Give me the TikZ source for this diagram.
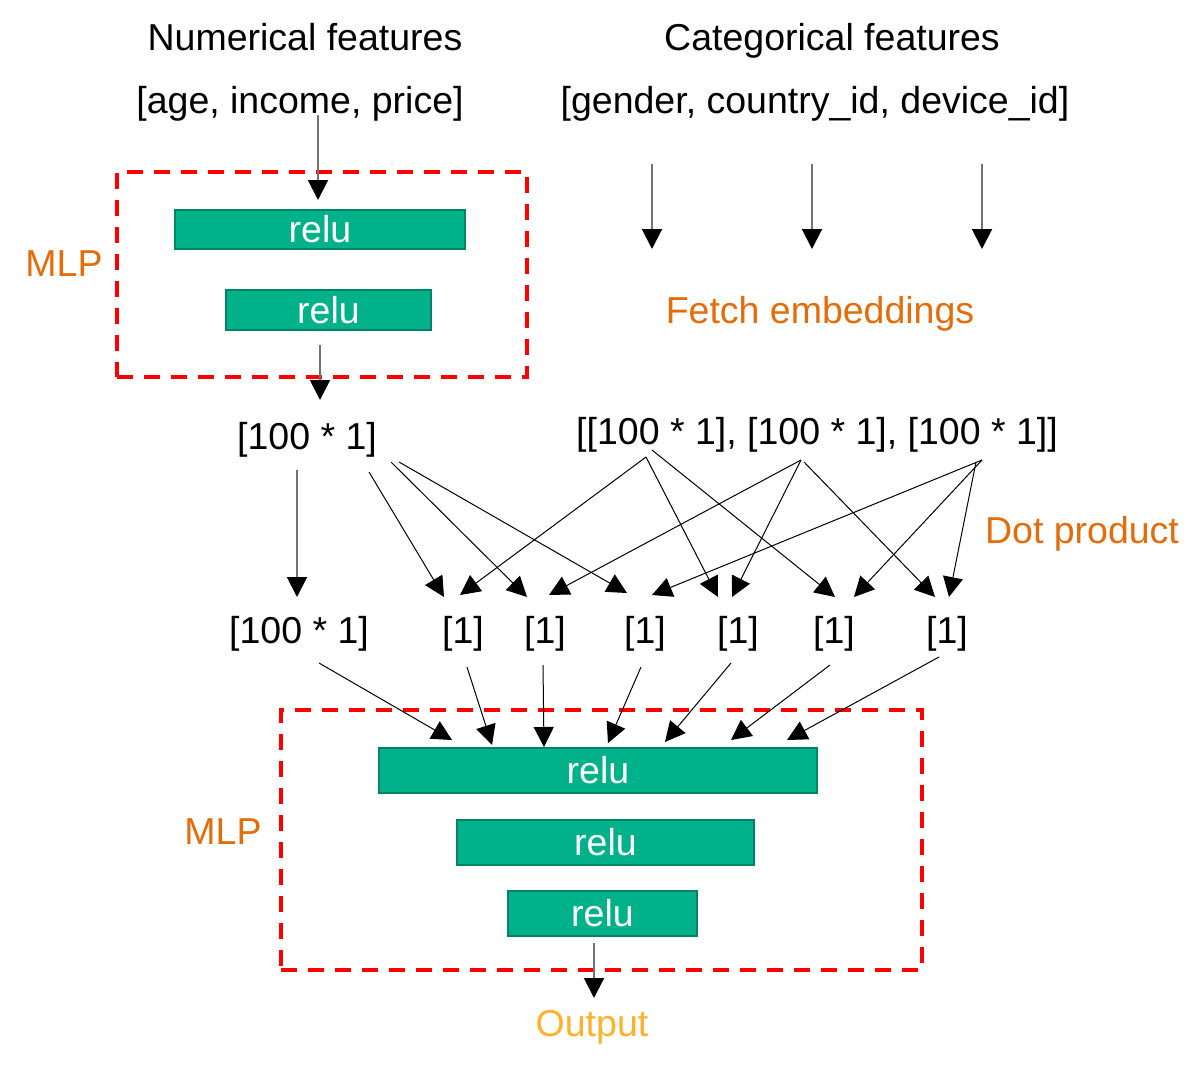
\documentclass[tikz,border=0pt]{standalone}
\usepackage{fontspec}
\setmainfont{Liberation Sans}
\usetikzlibrary{arrows.meta}
\definecolor{relugreen}{HTML}{00B189}
\definecolor{reluborder}{HTML}{008366}
\definecolor{lblorange}{HTML}{E46C0A}
\definecolor{outorange}{HTML}{FFB12B}
\definecolor{mlpred}{HTML}{FF0000}
\begin{document}
\begin{tikzpicture}[x=1pt,y=-1pt,
 txt/.style={font=\fontsize{37.5}{44}\selectfont, inner sep=0pt, anchor=base},
 lbl/.style={txt, text=lblorange},
 relubox/.style={draw=reluborder, line width=2pt, fill=relugreen, text=white,
   font=\fontsize{37.5}{44}\selectfont, inner sep=0pt},
 mlpbox/.style={draw=mlpred, line width=4pt, dash pattern=on 16pt off 11pt, inner sep=0pt},
 arr/.style={line width=1pt, draw=black, -{Triangle[length=20pt,width=20pt,color=black]}},
 varr/.style={arr, draw=black!55, line width=2pt}
]
\useasboundingbox (0,0) rectangle (1202,1066);

% titles
\node[txt] (numt) at (305,50) {Numerical features};
\node[txt] (catt) at (832,50) {Categorical features};
\node[txt] (numf) at (300,113) {[age, income, price]};
\node[txt] (catf) at (815,113) {[gender, country\_id, device\_id]};

% MLP 1
\node[mlpbox, minimum width=410pt, minimum height=205pt] (mlp1) at (322,274.5) {};
\node[lbl] (mlp1l) at (64,276) {MLP};
\node[relubox, minimum width=290pt, minimum height=39pt] (r11) at (320,229.5) {relu};
\node[relubox, minimum width=205pt, minimum height=40pt] (r12) at (328.5,310) {relu};

\coordinate (a0s) at (318,115);
\coordinate (a0t) at (318,200);
\draw[varr] (a0s) -- (a0t);
\coordinate (a1s) at (320,345);
\coordinate (a1t) at (320,400);
\draw[varr] (a1s) -- (a1t);

% fetch embeddings
\foreach \i/\x in {1/652,2/812,3/982}{
  \coordinate (fs\i) at (\x,164);
  \coordinate (ft\i) at (\x,249);
  \draw[varr] (fs\i) -- (ft\i);
}
\node[lbl] (fetch) at (820,323) {Fetch embeddings};

% middle row
\node[txt] (num100) at (307,449) {[100 * 1]};
\node[txt] (emb100) at (817,444) {[[100 * 1], [100 * 1], [100 * 1]]};
\node[lbl] (dot) at (1082,543) {Dot product};

% bottom row
\node[txt] (b0) at (299,643) {[100 * 1]};
\node[txt] (b1) at (463,643) {[1]};
\node[txt] (b2) at (545,643) {[1]};
\node[txt] (b3) at (645,643) {[1]};
\node[txt] (b4) at (738,643) {[1]};
\node[txt] (b5) at (834,643) {[1]};
\node[txt] (b6) at (947,643) {[1]};

% sources
\coordinate (nv) at (297,470);
\coordinate (nvt) at (297,597);
\draw[varr] (nv) -- (nvt);
\coordinate (n1) at (369,472);
\coordinate (n2) at (391,462);
\coordinate (n3) at (399,462);
\coordinate (e1) at (646,457);
\coordinate (e1b) at (652,450);
\coordinate (e2) at (801,460);
\coordinate (e2b) at (804,462);
\coordinate (e3) at (982,460);
\coordinate (e3b) at (976,462);
% tips
\coordinate (t1a) at (444,597); \coordinate (t1b) at (460,595);
\coordinate (t2a) at (527,597); \coordinate (t2b) at (549,595);
\coordinate (t3a) at (627,593); \coordinate (t3b) at (652,595);
\coordinate (t4a) at (718,597); \coordinate (t4b) at (732,597);
\coordinate (t5a) at (835,597); \coordinate (t5b) at (854,597);
\coordinate (t6a) at (935,597); \coordinate (t6b) at (949,597);
\draw[arr] (n1) -- (t1a);
\draw[arr] (e1) -- (t1b);
\draw[arr] (n2) -- (t2a);
\draw[arr] (e2) -- (t2b);
\draw[arr] (n3) -- (t3a);
\draw[arr] (e3) -- (t3b);
\draw[arr] (e1) -- (t4a);
\draw[arr] (e2) -- (t4b);
\draw[arr] (e1b) -- (t5a);
\draw[arr] (e3) -- (t5b);
\draw[arr] (e2b) -- (t6a);
\draw[arr] (e3b) -- (t6b);

% MLP 2
\node[mlpbox, minimum width=641pt, minimum height=260pt] (mlp2) at (601.5,840) {};
\node[lbl] (mlp2l) at (223,844) {MLP};
\node[relubox, minimum width=438pt, minimum height=45pt] (r21) at (598,770.5) {relu};
\node[relubox, minimum width=297pt, minimum height=45pt] (r22) at (605.5,842.5) {relu};
\node[relubox, minimum width=189pt, minimum height=45pt] (r23) at (602.5,913.5) {relu};

\coordinate (c0s) at (319,663); \coordinate (c0t) at (452,740);
\coordinate (c1s) at (467,667); \coordinate (c1t) at (492,745);
\coordinate (c2s) at (543,665); \coordinate (c2t) at (544,747);
\coordinate (c3s) at (641,667); \coordinate (c3t) at (608,743);
\coordinate (c4s) at (731,663); \coordinate (c4t) at (665,742);
\coordinate (c5s) at (830,665); \coordinate (c5t) at (731,740);
\coordinate (c6s) at (939,657); \coordinate (c6t) at (787,740);
\foreach \k in {0,...,6}{ \draw[arr] (c\k s) -- (c\k t); }

\coordinate (os) at (594,943);
\coordinate (ot) at (594,998);
\draw[varr] (os) -- (ot);
\node[txt, text=outorange] (out) at (592,1036) {Output};
\end{tikzpicture}
\end{document}
